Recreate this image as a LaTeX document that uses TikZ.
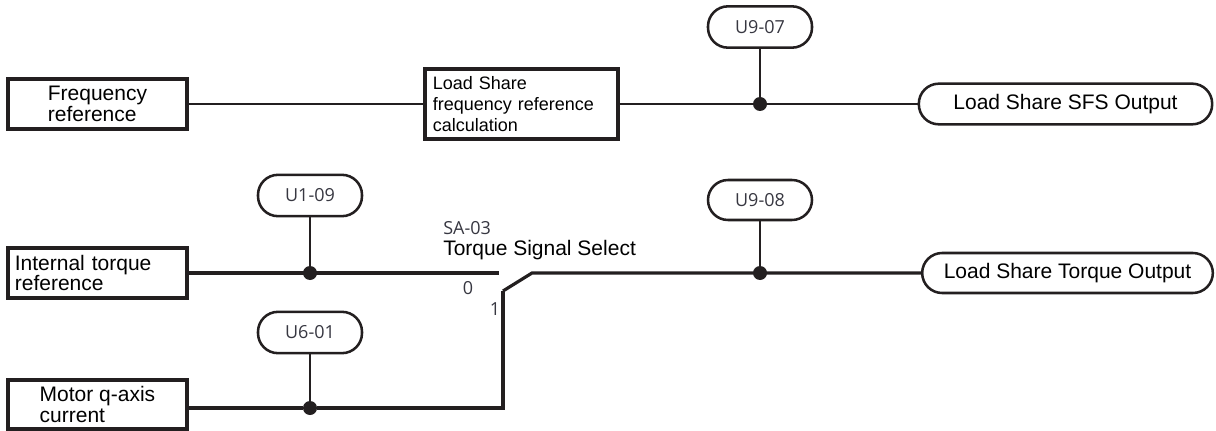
\documentclass[tikz,border=0pt]{standalone}
\usepackage{fontspec}
\setmainfont{Liberation Sans}
\newfontfamily\termfont{Open Sans}
\usepackage{tikz}
\usetikzlibrary{positioning, calc}
\definecolor{mydark}{RGB}{35,31,32}
\definecolor{mygrey}{RGB}{55,55,65}
\tikzset{
  block/.style={rectangle, draw=mydark, line width=2.8pt, align=left, inner sep=0pt,
    minimum width=134.25pt, minimum height=37pt, font=\fontsize{15.75}{15.4}\selectfont},
  calcblock/.style={block, minimum width=144.75pt, minimum height=52.5pt, text width=133pt,
    font=\fontsize{13.5}{15.75}\selectfont},
  term/.style={rectangle, rounded corners=15pt, draw=mydark, line width=1.9pt, minimum width=78pt,
    minimum height=31pt, inner sep=0pt, font=\termfont\fontsize{13.5}{16}\selectfont, text=mygrey},
  outterm/.style={rectangle, rounded corners=15pt, draw=mydark, line width=1.9pt, minimum width=220pt,
    minimum height=30.5pt, inner sep=0pt, font=\fontsize{15.75}{18}\selectfont},
  joint/.style={circle, fill=mydark, minimum size=10.5pt, inner sep=0pt},
  thinline/.style={line width=1.6pt, color=mydark},
  line/.style={line width=2.4pt, color=mydark},
  stem/.style={line width=2pt, color=mydark},
  lbl/.style={font=\termfont\fontsize{13.5}{16}\selectfont, text=mygrey, inner sep=0pt}
}
\begin{document}
\begin{tikzpicture}[x=0.75pt, y=-0.75pt]
  \useasboundingbox (0,0) rectangle (1216,431);
  % Frequency path
  \node[block] (freq) at (97.5,104) {Frequency\\reference};
  \node[calcblock] (calc) at (521.5,104) {Load Share\\frequency reference\\calculation};
  \node[outterm] (sfs) at (1065.5,104) {Load Share SFS Output};
  \node[term] (u907) at (760,27) {U9-07};
  \node[joint] (dot1) at (760,104) {};
  \draw[thinline] (freq) -- (calc);
  \draw[thinline] (calc) -- (sfs);
  \draw[stem] (u907) -- (dot1);
  % Torque path
  \node[block, minimum height=37.5pt, text width=124pt] (torq) at (97.5,273) {Internal torque\\reference};
  \node[block] (motor) at (97.5,404.5) {Motor q-axis\\current};
  \node[term] (u109) at (310,195.5) {U1-09};
  \node[term] (u601) at (310,332.5) {U6-01};
  \node[term, minimum height=30pt] (u908) at (760,200) {U9-08};
  \node[outterm, minimum width=218pt, minimum height=30pt] (tout) at (1067.5,273) {Load Share Torque Output};
  \node[joint] (dot2) at (310,273) {};
  \node[joint] (dot3) at (760,273) {};
  \node[joint] (dot4) at (310,408) {};
  % Switch
  \coordinate (sw0) at (499,273);
  \coordinate (sw1) at (503,291);
  \coordinate (sw2) at (532,273);
  \node[lbl, anchor=west] (sa) at (443,228) {SA-03};
  \node[anchor=west, inner sep=0pt, font=\fontsize{15.75}{18}\selectfont] (tss) at (443,250) {Torque Signal Select};
  \node[lbl] (zero) at (468,288) {0};
  \node[lbl] (one) at (495,309) {1};
  \draw[line] (torq) -- (sw0);
  \draw[line] (sw1) -- (sw2) -- (tout);
  \draw[line] (sw1) |- (dot4) -- (motor.east |- dot4);
  \draw[stem] (u109) -- (dot2);
  \draw[stem] (u908) -- (dot3);
  \draw[stem] (u601) -- (dot4);
\end{tikzpicture}
\end{document}
